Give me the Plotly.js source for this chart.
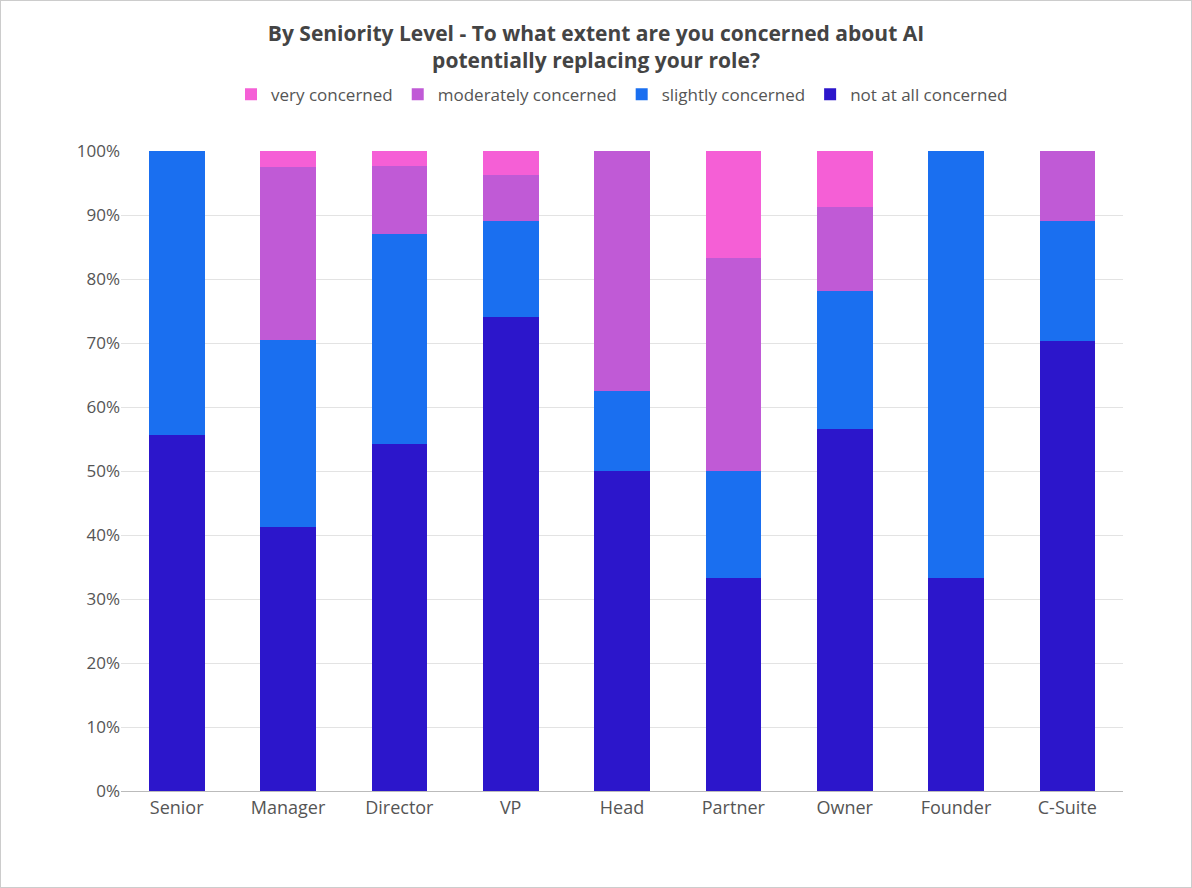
<!DOCTYPE html>
<html><head><meta charset="utf-8">
<script src="https://cdn.plot.ly/plotly-3.0.1.min.js"></script>
<style>body{margin:0}#c{width:1190px;height:886px;border:1px solid #ccc}</style>
</head><body><div id="c"></div>
<script>
const categories = ["Senior","Manager","Director","VP","Head","Partner","Owner","Founder","C-Suite"];
const notAtAll   = [55.6,41.3,54.2,74.1,50.0,33.3,56.6,33.3,70.3];
const slightly   = [44.4,29.2,32.8,15.0,12.5,16.7,21.5,66.7,18.8];
const moderately = [0,27.0,10.7,7.2,37.5,33.3,13.2,0,10.9];
const very       = [0,2.5,2.3,3.7,0,16.7,8.7,0,0];
const names = ["not at all concerned","slightly concerned","moderately concerned","very concerned"];
const colors = ["#2c16cb","#1a6ff0","#c05ad6","#f55fd6"];
const series = [notAtAll,slightly,moderately,very];
const data = series.map((v,i)=>({type:"bar",x:categories,y:v,name:names[i],marker:{color:colors[i]},width:0.5}));
Plotly.newPlot("c",data,{
  barmode:"stack",
  font:{family:"Open Sans, Noto Sans, sans-serif",size:17,color:"#555"},
  title:{text:"<b>By Seniority Level - To what extent are you concerned about AI<br>potentially replacing your role?</b>",font:{size:21,color:"#444"},x:0.5,y:0.955},
  legend:{orientation:"h",x:0.5,xanchor:"center",y:1.06,yanchor:"bottom",font:{size:17,color:"#555"}},
  margin:{l:120,r:68,t:150,b:96},
  xaxis:{showline:true,linecolor:"#bbb",tickfont:{size:18}},
  yaxis:{range:[0,100],dtick:10,ticksuffix:"%",gridcolor:"#e3e3e3",tickfont:{size:17}},
  plot_bgcolor:"#fff",paper_bgcolor:"#fff"
},{displayModeBar:false});
</script></body></html>
